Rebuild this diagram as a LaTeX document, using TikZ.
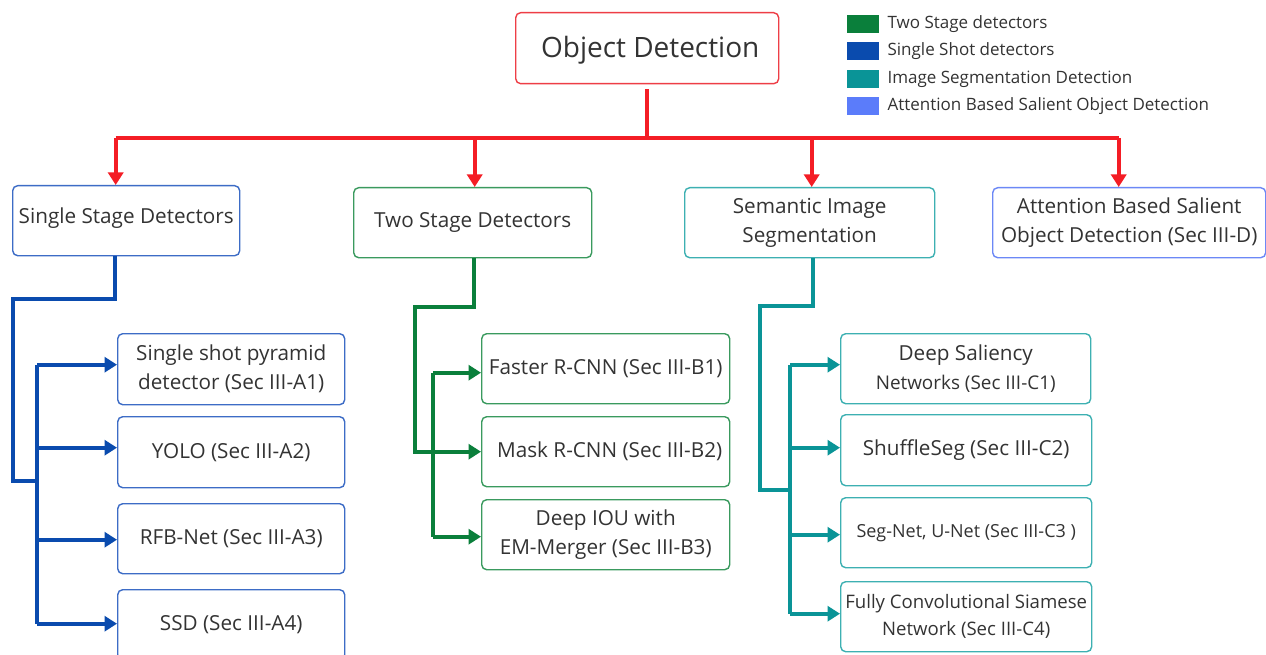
\documentclass[tikz,border=0pt]{standalone}
\usepackage{fontspec}
\setmainfont{Open Sans}
\usetikzlibrary{arrows.meta}

\definecolor{txt}{HTML}{333333}
\definecolor{rline}{HTML}{F41D25}
\definecolor{rbox}{HTML}{EE3E46}
\definecolor{bline}{HTML}{0A4BAE}
\definecolor{bbox}{HTML}{3D6CC6}
\definecolor{gline}{HTML}{0A7F3B}
\definecolor{gbox}{HTML}{3A9A5E}
\definecolor{tline}{HTML}{0A9497}
\definecolor{tbox}{HTML}{3DB0B2}
\definecolor{lline}{HTML}{5B7CFA}
\definecolor{lbox}{HTML}{6C88F6}

\tikzset{
  box/.style={draw, line width=1.4pt, rounded corners=5pt, inner sep=0pt,
    anchor=north west, align=center, text=txt,
    font=\fontsize{20.7}{29}\selectfont},
  conn/.style={line width=3.8pt},
  tip/.style={-{Triangle[length=12.5pt,width=15pt]}},
  legsq/.style={inner sep=0pt, minimum width=32pt, minimum height=18pt, anchor=north west},
  legtxt/.style={anchor=west, text=txt, inner sep=0pt, font=\fontsize{17}{20}\selectfont},
}

\begin{document}
\begin{tikzpicture}[x=1pt,y=-1pt]
\useasboundingbox[fill=white] (0,0) rectangle (1266,655);

% root
\node[box, draw=rbox, minimum width=263pt, minimum height=71pt,
      font=\fontsize{28}{32}\selectfont] (od) at (515,12)
  {\raisebox{-2pt}[\height][\depth]{\hspace*{6pt}Object Detection}};

% legend
\node[legsq, fill=gline] (lg1) at (847,15) {};
\node[legsq, fill=bline] (lg2) at (847,42) {};
\node[legsq, fill=tline] (lg3) at (847,70) {};
\node[legsq, fill=lline] (lg4) at (847,97) {};
\node[legtxt] at ([xshift=8pt]lg1.east) {Two Stage detectors};
\node[legtxt] at ([xshift=8pt]lg2.east) {Single Shot detectors};
\node[legtxt] at ([xshift=8pt]lg3.east) {Image Segmentation Detection};
\node[legtxt] at ([xshift=8pt]lg4.east) {Attention Based Salient Object Detection};

% first level
\node[box, draw=bbox, minimum width=227pt, minimum height=70pt] (ssd) at (12,185)
  {\raisebox{3pt}[\height][\depth]{Single Stage Detectors}};
\node[box, draw=gbox, minimum width=238pt, minimum height=70pt] (tsd) at (353,187)
  {Two Stage Detectors};
\node[box, draw=tbox, minimum width=250pt, minimum height=70pt] (sis) at (684,187)
  {Semantic Image\\Segmentation};
\node[box, draw=lbox, minimum width=273pt, minimum height=70pt] (abs) at (992,187)
  {Attention Based Salient\\Object Detection (Sec III-D)};

% single stage branch
\node[box, draw=bbox, minimum width=227pt, minimum height=71pt] (a1) at (117,333)
  {Single shot pyramid\\detector (Sec III-A1)};
\node[box, draw=bbox, minimum width=227pt, minimum height=71pt] (a2) at (117,416)
  {YOLO (Sec III-A2)};
\node[box, draw=bbox, minimum width=227pt, minimum height=70pt] (a3) at (117,503)
  {RFB-Net (Sec III-A3)};
\node[box, draw=bbox, minimum width=227pt, minimum height=70pt] (a4) at (117,589)
  {SSD (Sec III-A4)};

% two stage branch
\node[box, draw=gbox, minimum width=248pt, minimum height=70pt] (b1) at (481,333)
  {Faster R-CNN (Sec III-B1)};
\node[box, draw=gbox, minimum width=248pt, minimum height=70pt] (b2) at (481,416)
  {\hspace*{8pt}Mask R-CNN (Sec III-B2)};
\node[box, draw=gbox, minimum width=248pt, minimum height=70pt] (b3) at (481,499)
  {Deep IOU with\\EM-Merger (Sec III-B3)};

% segmentation branch
\node[box, draw=tbox, minimum width=250pt, minimum height=70pt] (c1) at (840,333)
  {Deep Saliency\\{\fontsize{18.9}{20}\selectfont Networks (Sec III-C1)}};
\node[box, draw=tbox, minimum width=251pt, minimum height=71pt] (c2) at (840,414)
  {ShuffleSeg (Sec III-C2)};
\node[box, draw=tbox, minimum width=251pt, minimum height=70pt] (c3) at (840,497)
  {\fontsize{18}{20}\selectfont Seg-Net, U-Net (Sec III-C3 )};
\node[box, draw=tbox, minimum width=251pt, minimum height=70pt,
      font=\fontsize{18.6}{27}\selectfont] (c4) at (840,581)
  {Fully Convolutional Siamese\\Network (Sec III-C4)};

% root connectors
\coordinate (rbus) at (0,138);
\draw[conn, draw=rline, line width=3.6pt] ([yshift=-5pt]od.south) -- (od.south |- rbus);
\draw[conn, draw=rline, line width=3.6pt] ([xshift=-10.5pt]ssd.north |- rbus) -- ([xshift=-10.5pt]abs.north |- rbus);
\foreach \n/\dx in {ssd/-10.5, tsd/2, sis/2, abs/-10.5}
  \draw[conn, draw=rline, fill=rline, line width=3.6pt, tip]
    ([xshift=\dx pt]\n.north |- rbus) -- ([xshift=\dx pt]\n.north);

% single stage connectors
\coordinate (bk1) at (13,299);
\coordinate (bk2) at (37,481);
\draw[conn, draw=bline] ([xshift=-11.5pt]ssd.south) |- (bk1) |- (bk2);
\draw[conn, draw=bline] ([yshift=4.5pt]bk2 |- a1.west) -- ([yshift=1pt]bk2 |- a4.west);
\foreach \n/\dy in {a1/4.5, a2/4.5, a3/-1, a4/1}
  \draw[conn, draw=bline, fill=bline, tip] ([yshift=\dy pt]bk2 |- \n.west) -- ([yshift=\dy pt]\n.west);

% two stage connectors
\coordinate (gk1) at (415,307);
\coordinate (gk2) at (433,452);
\draw[conn, draw=gline] ([xshift=1pt]tsd.south) |- (gk1) |- (gk2);
\draw[conn, draw=gline] ([yshift=-4pt]gk2 |- b1.west) -- ([yshift=-2pt]gk2 |- b3.west);
\foreach \n/\dy in {b1/-4, b2/0, b3/-2}
  \draw[conn, draw=gline, fill=gline, tip] ([yshift=\dy pt]gk2 |- \n.west) -- ([yshift=\dy pt]\n.west);

% segmentation connectors
\coordinate (tk1) at (760,306);
\coordinate (tk2) at (790,490);
\draw[conn, draw=tline] ([xshift=3pt]sis.south) |- (tk1) |- (tk2);
\draw[conn, draw=tline] ([yshift=4pt]tk2 |- c1.west) -- ([yshift=3pt]tk2 |- c4.west);
\foreach \n/\dy in {c1/4, c2/2.5, c3/-2, c4/3}
  \draw[conn, draw=tline, fill=tline, tip] ([yshift=\dy pt]tk2 |- \n.west) -- ([yshift=\dy pt]\n.west);
\end{tikzpicture}
\end{document}
